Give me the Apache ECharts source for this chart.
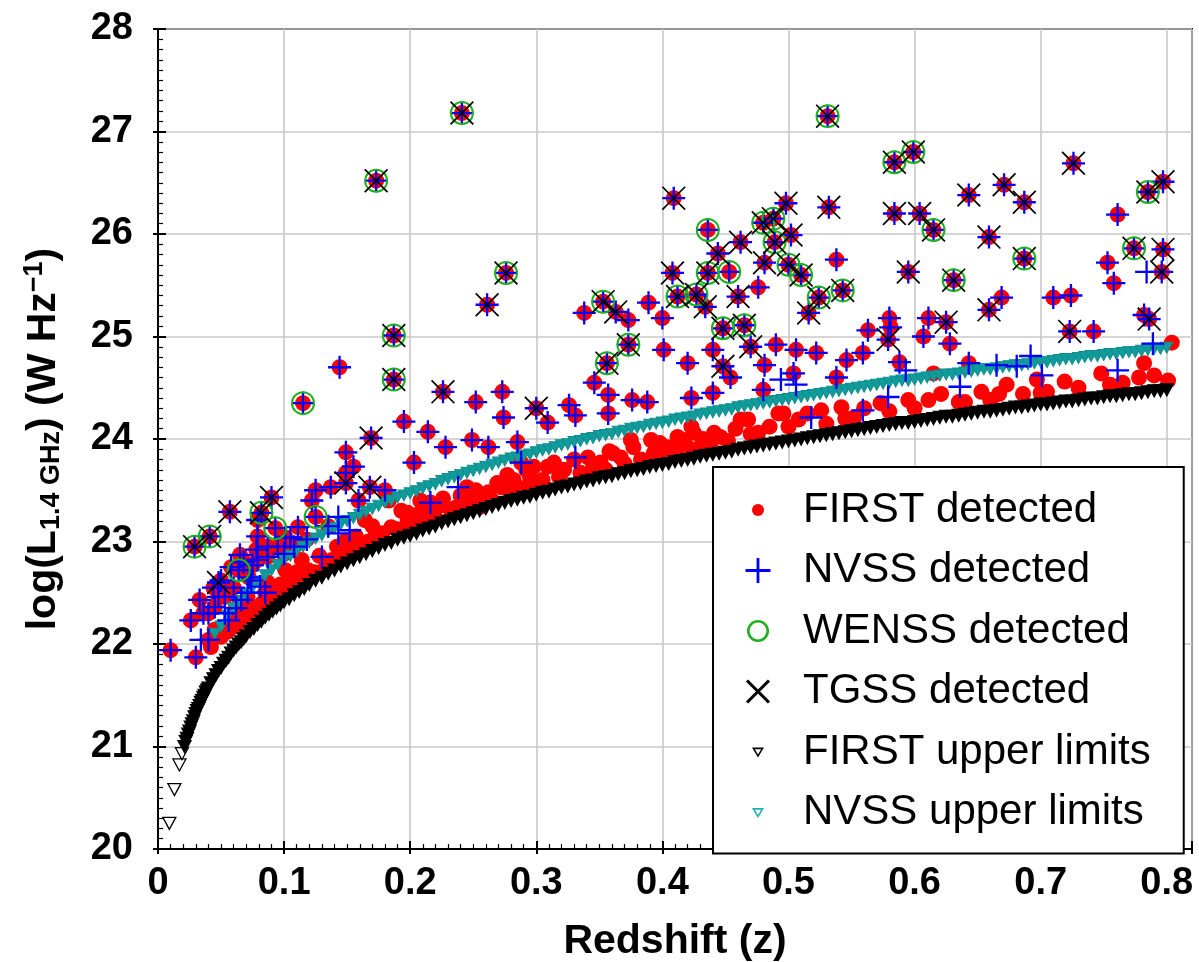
<!DOCTYPE html>
<html><head><meta charset="utf-8">
<script src="https://cdn.jsdelivr.net/npm/echarts@6/dist/echarts.min.js"></script>
<style>html,body{margin:0;padding:0;background:#fff}#c{width:1199px;height:962px}</style>
</head><body><div id="c"></div>
<script>
// ---------- data (z, log L) ----------
const xTickValues = [0, 0.1, 0.2, 0.3, 0.4, 0.5, 0.6, 0.7, 0.8];
const yTickValues = [20, 21, 22, 23, 24, 25, 26, 27, 28];

// detected in FIRST + NVSS + WENSS + TGSS
const allFour = [[0.173,26.52],[0.241,27.18],[0.531,27.15],[0.276,25.62],[0.187,25.01],[0.187,24.58],[0.480,26.11],[0.488,26.15],[0.489,25.92],[0.500,25.70],[0.510,25.60],[0.436,25.62],[0.412,25.39],[0.427,25.41],[0.448,25.08],[0.465,25.11],[0.353,25.34],[0.373,24.92],[0.356,24.74],[0.584,26.70],[0.599,26.80],[0.785,26.41],[0.615,26.04],[0.774,25.86],[0.631,25.55],[0.687,25.76],[0.524,25.38],[0.543,25.45],[0.082,23.28],[0.041,23.05],[0.029,22.95]];
// FIRST + NVSS + WENSS
const firstNvssWenss = [[0.115,24.35],[0.436,26.04],[0.453,25.63],[0.064,22.72],[0.125,23.24],[0.093,23.13]];
// FIRST + NVSS + TGSS
const firstNvssTgss = [[0.261,25.31],[0.409,26.35],[0.462,25.92],[0.444,25.81],[0.498,26.30],[0.502,25.99],[0.408,25.62],[0.481,25.72],[0.460,25.39],[0.434,25.29],[0.363,25.24],[0.470,24.90],[0.448,24.71],[0.226,24.46],[0.300,24.30],[0.532,26.26],[0.584,26.20],[0.604,26.20],[0.726,26.69],[0.797,26.51],[0.643,26.38],[0.671,26.48],[0.687,26.31],[0.659,25.97],[0.595,25.63],[0.797,25.85],[0.796,25.63],[0.659,25.26],[0.516,25.23],[0.625,25.14],[0.723,25.05],[0.786,25.17],[0.579,24.97],[0.169,24.01],[0.149,23.57],[0.057,23.29],[0.048,22.60],[0.090,23.43],[0.168,23.53]];
// FIRST + NVSS
const firstNvss = [[0.144,24.70],[0.338,25.23],[0.373,25.16],[0.389,25.33],[0.400,25.18],[0.346,24.55],[0.401,24.87],[0.420,24.74],[0.357,24.43],[0.357,24.25],[0.376,24.38],[0.388,24.36],[0.252,24.36],[0.273,24.46],[0.274,24.21],[0.309,24.16],[0.326,24.33],[0.331,24.23],[0.195,24.17],[0.214,24.07],[0.228,23.92],[0.249,23.99],[0.262,23.92],[0.285,23.97],[0.288,23.77],[0.203,23.77],[0.216,23.38],[0.423,24.40],[0.440,24.45],[0.454,24.60],[0.480,24.48],[0.481,24.72],[0.440,24.87],[0.490,24.92],[0.504,24.64],[0.476,25.48],[0.538,25.75],[0.761,26.19],[0.753,25.72],[0.758,25.52],[0.782,25.21],[0.669,25.38],[0.710,25.38],[0.724,25.40],[0.742,25.05],[0.506,24.87],[0.522,24.84],[0.538,24.60],[0.546,24.77],[0.559,24.84],[0.563,25.06],[0.581,25.09],[0.588,24.75],[0.611,25.18],[0.607,25.00],[0.628,24.93],[0.643,24.74],[0.580,25.18],[0.149,23.87],[0.155,23.73],[0.137,23.53],[0.180,23.50],[0.122,23.40],[0.159,23.40],[0.079,23.21],[0.065,22.87],[0.079,22.82],[0.087,22.85],[0.085,22.50],[0.053,22.46],[0.045,22.36],[0.026,22.23],[0.040,22.04],[0.030,21.87],[0.010,21.94],[0.079,23.05],[0.087,22.95],[0.058,22.75],[0.048,22.46],[0.101,23.04],[0.111,23.14],[0.125,23.50],[0.149,23.67],[0.033,22.43],[0.040,22.30],[0.075,22.77],
[0.036,22.30],[0.044,22.55],[0.050,22.62],[0.060,22.55],[0.062,22.35],[0.068,22.80],[0.072,22.65],[0.078,22.92],[0.095,22.95],[0.100,22.88],[0.108,22.95],[0.118,23.02],[0.135,23.15]];
// NVSS only
const nvssOnly = [[0.238,23.53],[0.331,23.82],[0.518,24.21],[0.559,24.28],[0.579,24.41],[0.593,24.67],[0.784,25.63],[0.761,24.67],[0.636,24.51],[0.692,24.81],[0.701,24.62],[0.665,24.72],[0.681,24.71],[0.789,24.93],[0.130,22.85],[0.143,23.08],[0.074,22.62],[0.066,22.43],[0.056,22.23],[0.494,24.58],[0.506,24.53],[0.053,22.30],[0.034,22.04],[0.071,22.50],[0.081,22.56],[0.105,23.04],[0.143,23.24],[0.152,23.11]];
// FIRST only
const firstOnly = [[0.198,23.28],[0.208,23.40],[0.222,23.34],[0.245,23.53],[0.257,23.43],[0.272,23.53],[0.277,23.65],[0.295,23.63],[0.285,23.53],[0.314,23.77],[0.330,23.80],[0.341,23.82],[0.351,23.77],[0.361,23.86],[0.377,23.92],[0.393,23.86],[0.404,23.92],[0.412,24.02],[0.425,24.06],[0.420,23.92],[0.214,23.18],[0.232,23.31],[0.256,23.34],[0.198,23.11],[0.298,23.73],[0.309,23.73],[0.375,23.99],[0.391,23.99],
[0.423,24.12],[0.441,24.06],[0.462,24.19],[0.476,24.06],[0.496,24.25],[0.508,24.19],[0.526,24.28],[0.542,24.31],[0.552,24.21],[0.573,24.35],[0.595,24.38],[0.611,24.38],[0.430,23.92],[0.417,23.99],
[0.621,24.44],[0.635,24.36],[0.653,24.46],[0.673,24.53],[0.697,24.58],[0.719,24.56],[0.748,24.64],[0.755,24.53],[0.778,24.60],[0.782,24.74],[0.801,24.57],[0.804,24.94],[0.667,24.44],[0.686,24.44],[0.705,24.46],[0.615,24.64],
[0.050,22.07],[0.061,22.17],[0.071,22.30],[0.079,22.36],[0.093,22.50],[0.106,22.62],[0.119,22.72],[0.133,22.75],[0.146,22.89],[0.159,22.95],[0.172,23.04],[0.185,23.14],[0.198,23.21],[0.183,23.40],[0.164,23.21],[0.149,23.01],[0.114,22.82],[0.101,22.72],[0.087,22.60],[0.071,22.46],[0.061,22.33],[0.045,22.14],[0.042,21.97],
[0.492,24.25],[0.468,24.19],[0.446,24.02],[0.393,23.82],[0.367,23.82],[0.301,23.57],[0.282,23.60],[0.269,23.57],[0.245,23.38],[0.208,23.28],
[0.055,22.12],[0.058,22.25],[0.066,22.22],[0.068,22.38],[0.075,22.28],[0.083,22.40],[0.090,22.42],[0.097,22.58],[0.104,22.52],[0.110,22.70],[0.117,22.64],[0.124,22.70],[0.128,22.86],[0.138,22.82],[0.142,22.95],[0.153,22.90],[0.157,23.05],[0.167,23.00],[0.170,23.15],[0.178,23.08],[0.190,23.12],[0.193,23.30],
[0.204,23.20],[0.212,23.24],[0.219,23.25],[0.226,23.42],[0.236,23.33],[0.240,23.45],[0.250,23.40],[0.252,23.50],[0.262,23.48],[0.265,23.40],[0.278,23.50],[0.290,23.52],[0.292,23.70],[0.305,23.60],[0.318,23.63],[0.322,23.70],[0.335,23.67],[0.345,23.72],[0.355,23.70],[0.358,23.88],[0.370,23.76],[0.383,23.80],[0.398,23.96],[0.402,23.83],[0.410,23.90],[0.432,24.00],[0.438,23.93],[0.452,23.98],[0.458,24.10],
[0.470,24.05],[0.485,24.12],[0.500,24.12],[0.515,24.25],[0.530,24.15],[0.545,24.20],[0.560,24.30],[0.580,24.27],[0.600,24.30],[0.640,24.36],[0.660,24.38],[0.700,24.45],[0.730,24.50],[0.765,24.55],[0.790,24.62]];

// FIRST upper limits
const firstUpper = [[0.009,20.25],[0.013,20.58],[0.017,20.82],[0.019,20.93],[0.021,21.00],[0.022,21.05],[0.023,21.08],[0.024,21.12],[0.025,21.15],[0.026,21.19],[0.027,21.22],[0.028,21.25],[0.029,21.29],[0.030,21.32],[0.031,21.35],[0.032,21.37],[0.033,21.40],[0.034,21.43],[0.035,21.45],[0.036,21.48],[0.037,21.50],[0.038,21.53],[0.039,21.55],[0.040,21.57],[0.042,21.62],[0.044,21.66],[0.046,21.70],[0.048,21.74],[0.050,21.77],[0.052,21.81],[0.054,21.84],[0.056,21.87],[0.058,21.91],[0.060,21.94],[0.062,21.97],[0.064,22.00],[0.066,22.02],[0.068,22.05],[0.070,22.08],[0.073,22.12],[0.076,22.15],[0.079,22.19],[0.082,22.22],[0.085,22.26],[0.088,22.29],[0.091,22.32],[0.094,22.35],[0.097,22.38],[0.100,22.41],[0.104,22.44],[0.108,22.48],[0.112,22.51],[0.116,22.54],[0.120,22.58],[0.125,22.62],[0.130,22.65],[0.135,22.69],[0.140,22.72],[0.145,22.76],[0.150,22.79],[0.155,22.82],[0.160,22.85],[0.165,22.88],[0.170,22.91],[0.175,22.94],[0.180,22.97],[0.185,22.99],[0.190,23.02],[0.195,23.04],[0.200,23.06],[0.205,23.08],[0.210,23.11],[0.215,23.13],[0.220,23.15],[0.225,23.18],[0.230,23.20],[0.235,23.22],[0.240,23.24],[0.245,23.26],[0.250,23.28],[0.255,23.30],[0.260,23.32],[0.265,23.34],[0.270,23.36],[0.275,23.38],[0.280,23.40],[0.285,23.41],[0.290,23.43],[0.295,23.44],[0.300,23.46],[0.305,23.48],[0.310,23.49],[0.315,23.51],[0.320,23.53],[0.325,23.54],[0.330,23.56],[0.335,23.57],[0.340,23.59],[0.345,23.60],[0.350,23.62],[0.355,23.63],[0.360,23.64],[0.365,23.66],[0.370,23.67],[0.375,23.69],[0.380,23.70],[0.385,23.71],[0.390,23.73],[0.395,23.74],[0.400,23.75],[0.405,23.76],[0.410,23.78],[0.415,23.79],[0.420,23.80],[0.425,23.81],[0.430,23.83],[0.435,23.84],[0.440,23.85],[0.445,23.86],[0.450,23.87],[0.455,23.88],[0.460,23.90],[0.465,23.91],[0.470,23.92],[0.475,23.93],[0.480,23.94],[0.485,23.95],[0.490,23.96],[0.495,23.97],[0.500,23.98],[0.505,23.99],[0.510,24.00],[0.515,24.01],[0.520,24.02],[0.525,24.03],[0.530,24.04],[0.535,24.05],[0.540,24.06],[0.545,24.07],[0.550,24.08],[0.555,24.09],[0.560,24.10],[0.565,24.11],[0.570,24.12],[0.575,24.13],[0.580,24.14],[0.585,24.15],[0.590,24.16],[0.595,24.16],[0.600,24.17],[0.605,24.18],[0.610,24.19],[0.615,24.20],[0.620,24.21],[0.625,24.22],[0.630,24.22],[0.635,24.23],[0.640,24.24],[0.645,24.25],[0.650,24.26],[0.655,24.27],[0.660,24.27],[0.665,24.28],[0.670,24.29],[0.675,24.30],[0.680,24.31],[0.685,24.31],[0.690,24.32],[0.695,24.33],[0.700,24.34],[0.705,24.34],[0.710,24.35],[0.715,24.36],[0.720,24.37],[0.725,24.37],[0.730,24.38],[0.735,24.39],[0.740,24.40],[0.745,24.40],[0.750,24.41],[0.755,24.42],[0.760,24.42],[0.765,24.43],[0.770,24.44],[0.775,24.44],[0.780,24.45],[0.785,24.46],[0.790,24.47],[0.795,24.47],[0.800,24.48]];

// NVSS upper limits
const nvssUpper = [[0.045,22.10],[0.050,22.17],[0.055,22.27],[0.060,22.35],[0.065,22.42],[0.070,22.49],[0.075,22.55],[0.080,22.61],[0.085,22.67],[0.090,22.72],[0.095,22.77],[0.100,22.82],[0.105,22.86],[0.110,22.91],[0.115,22.95],[0.120,22.99],[0.125,23.03],[0.130,23.06],[0.135,23.10],[0.140,23.13],[0.145,23.17],[0.150,23.20],[0.155,23.23],[0.160,23.26],[0.165,23.29],[0.170,23.32],[0.175,23.35],[0.180,23.38],[0.185,23.40],[0.190,23.43],[0.195,23.45],[0.200,23.47],[0.205,23.49],[0.210,23.52],[0.215,23.54],[0.220,23.56],[0.225,23.59],[0.230,23.61],[0.235,23.63],[0.240,23.65],[0.245,23.67],[0.250,23.69],[0.255,23.71],[0.260,23.73],[0.265,23.75],[0.270,23.77],[0.275,23.79],[0.280,23.81],[0.285,23.82],[0.290,23.84],[0.295,23.85],[0.300,23.87],[0.305,23.89],[0.310,23.90],[0.315,23.92],[0.320,23.94],[0.325,23.95],[0.330,23.97],[0.335,23.98],[0.340,24.00],[0.345,24.01],[0.350,24.03],[0.355,24.04],[0.360,24.05],[0.365,24.07],[0.370,24.08],[0.375,24.10],[0.380,24.11],[0.385,24.12],[0.390,24.14],[0.395,24.15],[0.400,24.16],[0.405,24.17],[0.410,24.19],[0.415,24.20],[0.420,24.21],[0.425,24.22],[0.430,24.24],[0.435,24.25],[0.440,24.26],[0.445,24.27],[0.450,24.28],[0.455,24.29],[0.460,24.31],[0.465,24.32],[0.470,24.33],[0.475,24.34],[0.480,24.35],[0.485,24.36],[0.490,24.37],[0.495,24.38],[0.500,24.39],[0.505,24.40],[0.510,24.41],[0.515,24.42],[0.520,24.43],[0.525,24.44],[0.530,24.45],[0.535,24.46],[0.540,24.47],[0.545,24.48],[0.550,24.49],[0.555,24.50],[0.560,24.51],[0.565,24.52],[0.570,24.53],[0.575,24.54],[0.580,24.55],[0.585,24.56],[0.590,24.57],[0.595,24.57],[0.600,24.58],[0.605,24.59],[0.610,24.60],[0.615,24.61],[0.620,24.62],[0.625,24.63],[0.630,24.63],[0.635,24.64],[0.640,24.65],[0.645,24.66],[0.650,24.67],[0.655,24.68],[0.660,24.68],[0.665,24.69],[0.670,24.70],[0.675,24.71],[0.680,24.72],[0.685,24.72],[0.690,24.73],[0.695,24.74],[0.700,24.75],[0.705,24.75],[0.710,24.76],[0.715,24.77],[0.720,24.78],[0.725,24.78],[0.730,24.79],[0.735,24.80],[0.740,24.81],[0.745,24.81],[0.750,24.82],[0.755,24.83],[0.760,24.83],[0.765,24.84],[0.770,24.85],[0.775,24.85],[0.780,24.86],[0.785,24.87],[0.790,24.88],[0.795,24.88],[0.800,24.89]];

const seriesNames = ['FIRST detected', 'NVSS detected', 'WENSS detected', 'TGSS detected', 'FIRST upper limits', 'NVSS upper limits'];

// ---------- build ----------
const firstDet = [].concat(allFour, firstNvssWenss, firstNvssTgss, firstNvss, firstOnly);
const nvssDet = [].concat(allFour, firstNvssWenss, firstNvssTgss, firstNvss, nvssOnly);
const wenssDet = [].concat(allFour, firstNvssWenss);
const tgssDet = [].concat(allFour, firstNvssTgss);

const FONT = '"Liberation Sans", Arial, Helvetica, sans-serif';
const RED = '#ff0000', BLUE = '#0000ff', GREEN = '#1fb01f', CYAN = '#129b9b', CYAN_LEG = '#1cb3b3';
const PLUS = 'path://M9,0L11,0L11,20L9,20ZM0,9L20,9L20,11L0,11Z';
const CROSS = 'path://M1,0L20,19L19,20L0,1ZM19,0L20,1L1,20L0,19Z';

// legend icons (65 x 41 box, symbol centred at x=25)
const BOX = 'M0,0M65,41';
const ICON_DOT = 'path://' + BOX + 'M31,20.5A6,6,0,1,1,19,20.5A6,6,0,1,1,31,20.5Z';
const ICON_PLUS = 'path://' + BOX + 'M23.6,8L26.4,8L26.4,33L23.6,33ZM12.5,19.1L37.5,19.1L37.5,21.9L12.5,21.9Z';
const ICON_RING = 'path://' + BOX + 'M36,20.5A11,11,0,1,1,14,20.5A11,11,0,1,1,36,20.5ZM33.4,20.5A8.4,8.4,0,1,0,16.6,20.5A8.4,8.4,0,1,0,33.4,20.5Z';
const ICON_X = 'path://' + BOX + 'M15.1,8.4L37.1,30.4L34.9,32.6L12.9,10.6ZM34.9,8.4L37.1,10.6L15.1,32.6L12.9,30.4Z';
const ICON_TRI = 'path://' + BOX + 'M19,16L31,16L25,26ZM21.9,17.7L25,23L28.1,17.7Z';

const xFmt = v => {
  const hit = xTickValues.find(t => Math.abs(t - v) < 1e-9);
  return hit === undefined ? '' : (hit === 0 ? '0' : hit.toFixed(1));
};
const yFmt = v => {
  const hit = yTickValues.find(t => Math.abs(t - v) < 1e-9);
  return hit === undefined ? '' : String(hit);
};

const axisCommon = {
  axisLine: {show: true, lineStyle: {color: '#000', width: 2}},
  axisTick: {show: true, inside: true, length: 8, lineStyle: {color: '#000', width: 2}},
  minorTick: {show: true, splitNumber: 10, length: 5, lineStyle: {color: '#000', width: 1.2}},
  splitLine: {show: true, lineStyle: {color: '#c8c8c8', width: 1.6}},
  minorSplitLine: {show: false},
  axisLabel: {color: '#000', fontFamily: FONT, fontWeight: 'bold', fontSize: 38}
};

const chart = echarts.init(document.getElementById('c'), null, {renderer: 'canvas'});
chart.setOption({
  animation: false,
  backgroundColor: '#fff',
  grid: {left: 158, top: 29, right: 7, bottom: 113, containLabel: false, outerBoundsMode: 'none',
         show: true, borderColor: '#000', borderWidth: 2, backgroundColor: 'transparent'},
  xAxis: [
    Object.assign({}, axisCommon, {
      type: 'value', min: 0, max: 0.82, interval: 0.1, position: 'bottom',
      axisLabel: Object.assign({}, axisCommon.axisLabel, {margin: 16, formatter: xFmt}),
      name: 'Redshift (z)', nameLocation: 'middle', nameGap: 72,
      nameTextStyle: {color: '#000', fontFamily: FONT, fontWeight: 'bold', fontSize: 41}
    }),
    {type: 'value', min: 0, max: 0.82, interval: 0.1, position: 'bottom',
     axisLine: {show: false}, axisLabel: {show: false}, splitLine: {show: false},
     axisTick: {show: true, inside: false, length: 5, lineStyle: {color: '#000', width: 2}}}
  ],
  yAxis: [
    Object.assign({}, axisCommon, {
      type: 'value', min: 20, max: 28, interval: 1, position: 'left',
      axisLabel: Object.assign({}, axisCommon.axisLabel, {margin: 25, formatter: yFmt}),
      name: '{m|log(L}{s|1.4 GHz}{m|) (W Hz}{p|\u22121}{m|)}',
      nameLocation: 'middle', nameGap: 92, nameRotate: 90,
      nameTextStyle: {
        color: '#000', fontFamily: FONT, fontWeight: 'bold', fontSize: 41,
        rich: {
          m: {fontFamily: FONT, fontWeight: 'bold', fontSize: 41, color: '#000'},
          s: {fontFamily: FONT, fontWeight: 'bold', fontSize: 27, color: '#000', padding: [16, 0, 0, 0]},
          p: {fontFamily: FONT, fontWeight: 'bold', fontSize: 27, color: '#000', padding: [0, 0, 18, 0]}
        }
      }
    }),
    {type: 'value', min: 20, max: 28, interval: 1, position: 'left',
     axisLine: {show: false}, axisLabel: {show: false}, splitLine: {show: false},
     axisTick: {show: true, inside: false, length: 5, lineStyle: {color: '#000', width: 2}}}
  ],
  legend: {
    orient: 'vertical', left: 713, top: 467,
    padding: [22, 33, 20, 20], itemGap: 18.5,
    itemWidth: 65, itemHeight: 41, symbolRotate: 0,
    backgroundColor: '#fff', borderColor: '#000', borderWidth: 2, borderRadius: 0,
    selectedMode: false,
    textStyle: {color: '#000', fontFamily: FONT, fontSize: 42},
    data: [
      {name: seriesNames[0], icon: ICON_DOT, itemStyle: {color: RED, borderWidth: 0}},
      {name: seriesNames[1], icon: ICON_PLUS, itemStyle: {color: BLUE, borderWidth: 0}},
      {name: seriesNames[2], icon: ICON_RING, itemStyle: {color: GREEN, borderWidth: 0}},
      {name: seriesNames[3], icon: ICON_X, itemStyle: {color: '#000', borderWidth: 0}},
      {name: seriesNames[4], icon: ICON_TRI, itemStyle: {color: '#000', borderWidth: 0}},
      {name: seriesNames[5], icon: ICON_TRI, itemStyle: {color: CYAN_LEG, borderWidth: 0}}
    ]
  },
  series: [
    {name: seriesNames[0], type: 'scatter', xAxisIndex: 0, yAxisIndex: 0, data: firstDet,
     symbol: 'circle', symbolSize: 16, itemStyle: {color: RED, opacity: 1}},
    {name: seriesNames[4], type: 'scatter', xAxisIndex: 0, yAxisIndex: 0,
     data: firstUpper.map(p => p[0] < 0.02 ? {value: p, itemStyle: {color: '#fff'}} : p),
     symbol: 'triangle', symbolRotate: 180, symbolSize: [13, 12],
     itemStyle: {color: '#000', borderColor: '#000', borderWidth: 1.3, opacity: 1}},
    {name: seriesNames[5], type: 'scatter', xAxisIndex: 0, yAxisIndex: 0, data: nvssUpper,
     symbol: 'triangle', symbolRotate: 180, symbolSize: [12, 11],
     itemStyle: {color: CYAN, borderColor: '#0c8e8e', borderWidth: 1, opacity: 1}},
    {name: seriesNames[1], type: 'scatter', xAxisIndex: 0, yAxisIndex: 0, data: nvssDet,
     symbol: PLUS, symbolSize: 23, itemStyle: {color: BLUE, opacity: 1}},
    {name: seriesNames[2], type: 'scatter', xAxisIndex: 0, yAxisIndex: 0, data: wenssDet,
     symbol: 'circle', symbolSize: 22, itemStyle: {color: 'rgba(0,0,0,0)', borderColor: GREEN, borderWidth: 2, opacity: 1}},
    {name: seriesNames[3], type: 'scatter', xAxisIndex: 0, yAxisIndex: 0, data: tgssDet,
     symbol: CROSS, symbolSize: 24, itemStyle: {color: '#000', opacity: 1}}
  ]
});
</script>
</body></html>
